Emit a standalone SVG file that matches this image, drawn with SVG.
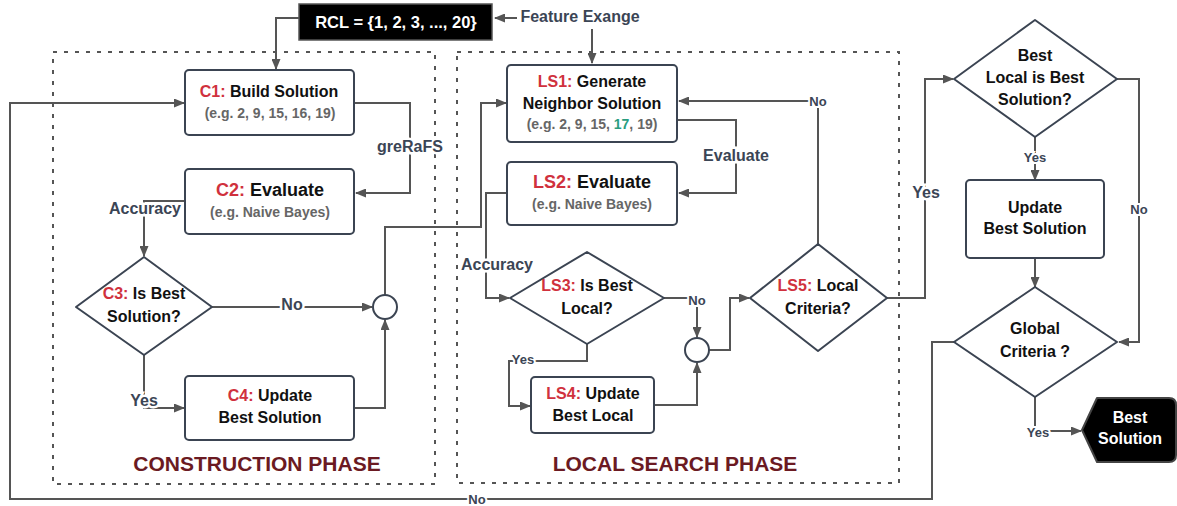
<svg xmlns="http://www.w3.org/2000/svg" width="1177" height="506" viewBox="0 0 1177 506">
<style>
text{font-family:"Liberation Sans",Arial,sans-serif;font-weight:bold;text-anchor:middle}
.box{fill:#fff;stroke:#3b4452;stroke-width:2}
.phase{fill:none;stroke:#555;stroke-width:2;stroke-dasharray:4 7}
.ln{fill:none;stroke:#555;stroke-width:2}
.arr{marker-end:url(#ah)}
.t{font-size:16px;fill:#111}
.big{font-size:18px;fill:#111}
.sub{font-size:14px;fill:#666}
.red{fill:#d0313d}
.lbl{font-size:16px;fill:#3b4555;stroke:#fff;stroke-width:5;paint-order:stroke}
.sl{font-size:13px;fill:#3b4555;stroke:#fff;stroke-width:4;paint-order:stroke}
.ph{font-size:21px;fill:#6b1a22}
.w{fill:#fff}
</style>
<defs>
<marker id="ah" markerUnits="userSpaceOnUse" markerWidth="11" markerHeight="9" refX="10" refY="4.5" orient="auto">
<path d="M0,0 L11,4.5 L0,9 z" fill="#555"/>
</marker>
</defs>
<rect width="1177" height="506" fill="#fff"/>

<g id="phases">
<rect class="phase" x="53" y="52" width="382" height="432"/>
<rect class="phase" x="457" y="52" width="442" height="431"/>
<text class="ph" x="257" y="471">CONSTRUCTION PHASE</text>
<text class="ph" x="675" y="471">LOCAL SEARCH PHASE</text>
</g>

<g id="connectors">
<path class="ln arr" d="M299,18 H276 V69"/>
<path class="ln arr" d="M517,18 H495"/>
<path class="ln arr" d="M592,29 V63"/>
<path class="ln arr" d="M354,103 H410 V193 H356"/>
<path class="ln arr" d="M185,201 H144 V256"/>
<path class="ln arr" d="M212,307 H372"/>
<path class="ln arr" d="M144,355 V408 H184"/>
<path class="ln arr" d="M354,408 H385 V320"/>
<path class="ln arr" d="M385,295 V227 H481 V103 H506"/>
<path class="ln arr" d="M677,120 H736 V193 H679"/>
<path class="ln arr" d="M818,244 V101 H679"/>
<path class="ln arr" d="M507,193 H486 V298 H509"/>
<path class="ln arr" d="M664,298 H697 V337"/>
<path class="ln arr" d="M587,344 V361 H509 V406 H530"/>
<path class="ln arr" d="M654,405 H697 V363"/>
<path class="ln arr" d="M709,350 H730 V298 H749"/>
<path class="ln arr" d="M887,298 H925 V79 H953"/>
<path class="ln arr" d="M1035,137 V180"/>
<path class="ln arr" d="M1035,258 V287"/>
<path class="ln arr" d="M1117,79 H1139 V342 H1119"/>
<path class="ln arr" d="M1035,397 V431 H1081"/>
<path class="ln arr" d="M954,342 H932 V499 H10 V103 H184"/>
<text class="lbl" x="580" y="22">Feature Exange</text>
<text class="lbl" x="410" y="152">greRaFS</text>
<text class="lbl" x="145" y="214">Accuracy</text>
<text class="lbl" x="292" y="310">No</text>
<text class="lbl" x="144" y="406">Yes</text>
<text class="lbl" x="736" y="161">Evaluate</text>
<text class="lbl" x="497" y="270">Accuracy</text>
<text class="sl" x="818" y="106">No</text>
<text class="sl" x="697" y="305">No</text>
<text class="sl" x="523" y="364">Yes</text>
<text class="lbl" x="926" y="198">Yes</text>
<text class="sl" x="1035" y="162">Yes</text>
<text class="sl" x="1139" y="214">No</text>
<text class="sl" x="1038" y="437">Yes</text>
<text class="sl" x="477" y="504">No</text>
</g>

<g id="rcl">
<rect x="299" y="4" width="193" height="36" fill="#000" stroke="#555" stroke-width="1.5"/>
<text x="396" y="28" font-size="16.5px" class="w">RCL = {1, 2, 3, ..., 20}</text>
</g>

<g id="c1">
<rect class="box" x="185" y="70" width="169" height="65" rx="4"/>
<text class="t" x="269" y="97"><tspan class="red">C1:</tspan> Build Solution</text>
<text class="sub" x="270" y="118">(e.g. 2, 9, 15, 16, 19)</text>
</g>
<g id="c2">
<rect class="box" x="185" y="169" width="169" height="65" rx="4"/>
<text class="big" x="270" y="196"><tspan class="red">C2:</tspan> Evaluate</text>
<text class="sub" x="270" y="217">(e.g. Naive Bayes)</text>
</g>
<g id="c3">
<polygon class="box" points="144,257 212,307 144,355 76,307" stroke-linejoin="round"/>
<text class="t" x="144" y="299"><tspan class="red">C3:</tspan> Is Best</text>
<text class="t" x="144" y="322">Solution?</text>
</g>
<g id="c4">
<rect class="box" x="185" y="376" width="169" height="64" rx="4"/>
<text class="t" x="270" y="401"><tspan class="red">C4:</tspan> Update</text>
<text class="t" x="270" y="423">Best Solution</text>
</g>
<g id="join1">
<circle class="box" cx="385" cy="307" r="12"/>
</g>

<g id="ls1">
<rect class="box" x="507" y="65" width="170" height="77" rx="4"/>
<text class="t" x="592" y="87"><tspan class="red">LS1:</tspan> Generate</text>
<text class="t" x="592" y="109">Neighbor Solution</text>
<text class="sub" x="592" y="129">(e.g. 2, 9, 15, <tspan fill="#2a9d7f">17</tspan>, 19)</text>
</g>
<g id="ls2">
<rect class="box" x="507" y="162" width="170" height="63" rx="4"/>
<text class="big" x="592" y="188"><tspan class="red">LS2:</tspan> Evaluate</text>
<text class="sub" x="592" y="209">(e.g. Naive Bayes)</text>
</g>
<g id="ls3">
<polygon class="box" points="587,252 664,298 587,344 510,298" stroke-linejoin="round"/>
<text class="t" x="587" y="291"><tspan class="red">LS3:</tspan> Is Best</text>
<text class="t" x="587" y="314">Local?</text>
</g>
<g id="ls4">
<rect class="box" x="531" y="377" width="123" height="56" rx="4"/>
<text class="t" x="593" y="399"><tspan class="red">LS4:</tspan> Update</text>
<text class="t" x="593" y="421">Best Local</text>
</g>
<g id="join2">
<circle class="box" cx="697" cy="350" r="12"/>
</g>
<g id="ls5">
<polygon class="box" points="818,244 887,298 818,351 750,298" stroke-linejoin="round"/>
<text class="t" x="818" y="291"><tspan class="red">LS5:</tspan> Local</text>
<text class="t" x="818" y="314">Criteria?</text>
</g>

<g id="bestlocal">
<polygon class="box" points="1035,20 1117,79 1035,137 954,79" stroke-linejoin="round"/>
<text class="t" x="1035" y="61">Best</text>
<text class="t" x="1035" y="83">Local is Best</text>
<text class="t" x="1035" y="105">Solution?</text>
</g>
<g id="update">
<rect class="box" x="966" y="180" width="138" height="78" rx="4"/>
<text class="t" x="1035" y="213">Update</text>
<text class="t" x="1035" y="234">Best Solution</text>
</g>
<g id="global">
<polygon class="box" points="1035,287 1117,342 1035,397 954,342" stroke-linejoin="round"/>
<text class="t" x="1035" y="334">Global</text>
<text class="t" x="1035" y="357">Criteria ?</text>
</g>
<g id="bestsolution">
<path d="M1097,398 H1169 Q1176,398 1176,405 V455 Q1176,462 1169,462 H1097 L1082,430 Z" fill="#000" stroke="#444" stroke-width="2" stroke-linejoin="round"/>
<text class="t w" x="1130" y="423">Best</text>
<text class="t w" x="1130" y="444">Solution</text>
</g>
</svg>
